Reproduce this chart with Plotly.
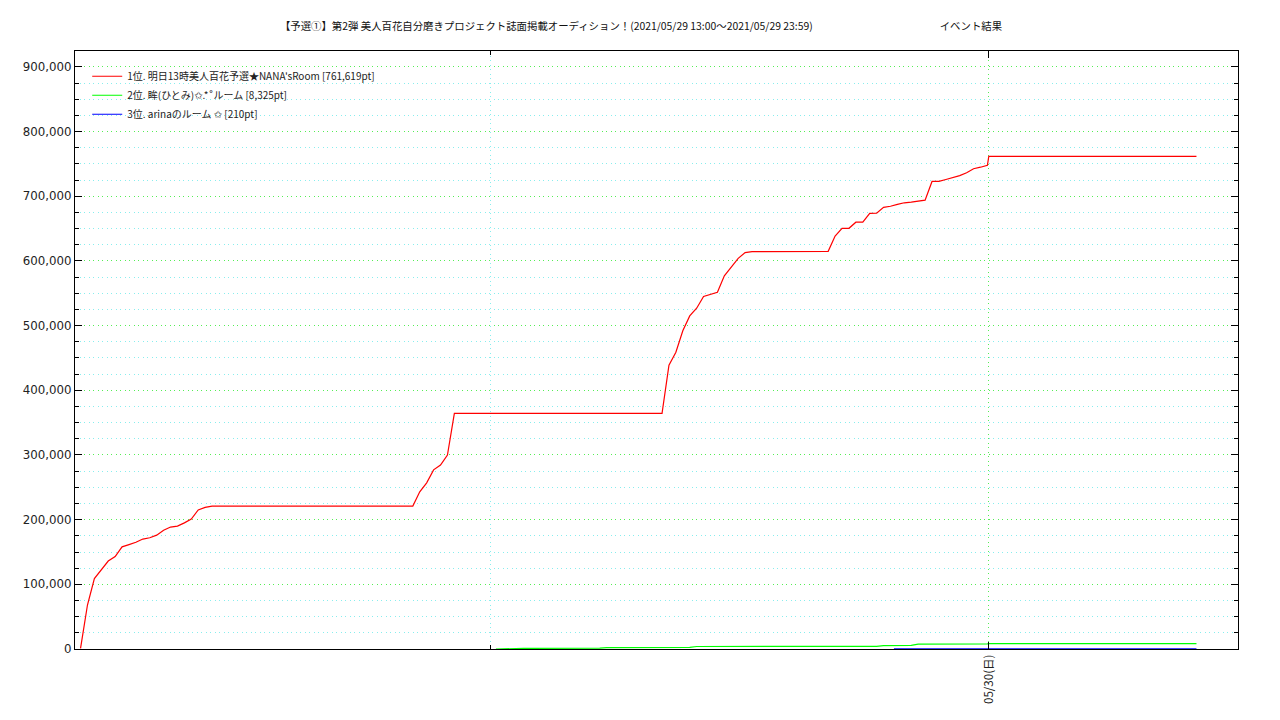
import plotly.graph_objects as go

# ---- data (times as hours since 05/29 00:00, "HH:MM"; >24 means next day) ----
red_times = ["02:08", "02:18", "02:28", "02:38", "02:48", "02:58", "03:08", "03:18", "03:28", "03:38",
             "03:48", "03:58", "04:08", "04:18", "04:28", "04:38", "04:48", "04:58", "05:08", "05:18",
             "10:08", "10:18", "10:28", "10:38", "10:48", "10:58", "11:08",
             "16:08", "16:18", "16:28", "16:38", "16:48", "16:58", "17:08", "17:18", "17:28", "17:38",
             "17:48", "17:58", "18:08", "18:18",
             "20:08", "20:18", "20:28", "20:38", "20:48", "20:58", "21:08", "21:18", "21:28", "21:38",
             "21:48", "21:58", "22:08", "22:18", "22:28", "22:38", "22:48", "22:58", "23:08", "23:18",
             "23:28", "23:38", "23:48", "23:58", "24:00", "29:00"]
red_values = [1000, 68000, 109000, 122000, 136000, 143000, 158000, 161500, 165000, 170000,
              172000, 176000, 183500, 188600, 190000, 195000, 201000, 215000, 219000, 221000,
              221000, 243000, 257000, 277000, 284500, 300000, 364500,
              364500, 439000, 459000, 492000, 515000, 527000, 545000, 548000, 551600, 577000,
              590000, 604000, 613000, 614500,
              615000, 638600, 650500, 650500, 660000, 660000, 673500, 674000, 683000, 684600,
              687500, 690000, 691000, 692700, 694000, 723000, 723000, 726000, 729000, 732000,
              736500, 742700, 745000, 748000, 761619, 761619]

green_times = ["12:08", "12:48", "14:38", "14:48", "16:48", "16:58", "21:18", "21:28", "22:08",
               "22:18", "23:58", "24:00", "29:00"]
green_values = [0, 900, 1300, 2100, 2500, 3900, 4200, 5200, 5600, 7600, 7900, 8325, 8325]

blue_times = ["21:43", "29:00"]
blue_values = [210, 210]

names = ["1位. 明日13時美人百花予選★NANA'sRoom [761,619pt]",
         "2位. 眸(ひとみ)✩.*˚ルーム [8,325pt]",
         "3位. arinaのルーム ✩ [210pt]"]
colors = ["#ff0000", "#00ff00", "#0000ff"]

x_tick_vals = [24]
x_tick_text = ["05/30(日)"]

title_text = ("【予選①】第2弾 美人百花自分磨きプロジェクト誌面掲載オーディション！"
              "(2021/05/29 13:00～2021/05/29 23:59)" + "\u3000" * 12 + "\u00a0" + "イベント結果")


def to_hours(t):
    h, m = t.split(":")
    return int(h) + int(m) / 60.0


fig = go.Figure()
for times, vals, name, col in [(red_times, red_values, names[0], colors[0]),
                               (green_times, green_values, names[1], colors[1]),
                               (blue_times, blue_values, names[2], colors[2])]:
    fig.add_trace(go.Scatter(x=[to_hours(t) for t in times], y=vals, mode="lines",
                             name=name, line=dict(color=col, width=1.2)))

FONT = "DejaVu Sans, Noto Sans CJK JP, sans-serif"
CJK = "Noto Sans CJK JP, DejaVu Sans, sans-serif"

# page body has an 8px offset; figure is sized so that the plot lands where the reference has it
W, H = 1272, 712
fig.update_layout(
    width=W, height=H,
    margin=dict(l=67, r=42, t=43, b=71),
    paper_bgcolor="white", plot_bgcolor="white",
    title=dict(text=title_text, x=633 / W, xanchor="center", y=1 - 18 / H, yanchor="middle",
               font=dict(family=CJK, size=10.4, color="#111")),
    showlegend=True,
    legend=dict(x=0.0105, y=0.982, xanchor="left", yanchor="top", bgcolor="rgba(0,0,0,0)",
                font=dict(family=CJK, size=10, color="#222"), tracegroupgap=0),
    font=dict(family=FONT, size=11, color="#222"),
)

DASH = "1px,3.5px"
fig.update_xaxes(
    range=[2, 30], tickmode="array", tickvals=x_tick_vals, ticktext=x_tick_text,
    tickangle=-90, ticks="inside", ticklen=7, tickcolor="black",
    showline=True, linecolor="black", linewidth=1, mirror="ticks",
    showgrid=True, gridcolor="#55ee55", griddash=DASH, gridwidth=1,
    zeroline=False, tickfont=dict(family=CJK, size=11.5, color="#222"),
    minor=dict(tickmode="linear", tick0=0, dtick=12, ticks="inside", ticklen=4, tickcolor="black",
               showgrid=True, gridcolor="#88eeee", griddash=DASH, gridwidth=1),
)
fig.update_yaxes(
    range=[0, 924700], tickmode="linear", tick0=0, dtick=100000, tickformat=",d",
    ticks="inside", ticklen=7, tickcolor="black",
    showline=True, linecolor="black", linewidth=1, mirror="ticks",
    showgrid=True, gridcolor="#55ee55", griddash=DASH, gridwidth=1,
    zeroline=False, tickfont=dict(family=FONT, size=11.8, color="#222"),
    minor=dict(tickmode="linear", tick0=0, dtick=25000, ticks="inside", ticklen=4, tickcolor="black",
               showgrid=True, gridcolor="#88eeee", griddash=DASH, gridwidth=1),
)

fig.write_html("out.html")
